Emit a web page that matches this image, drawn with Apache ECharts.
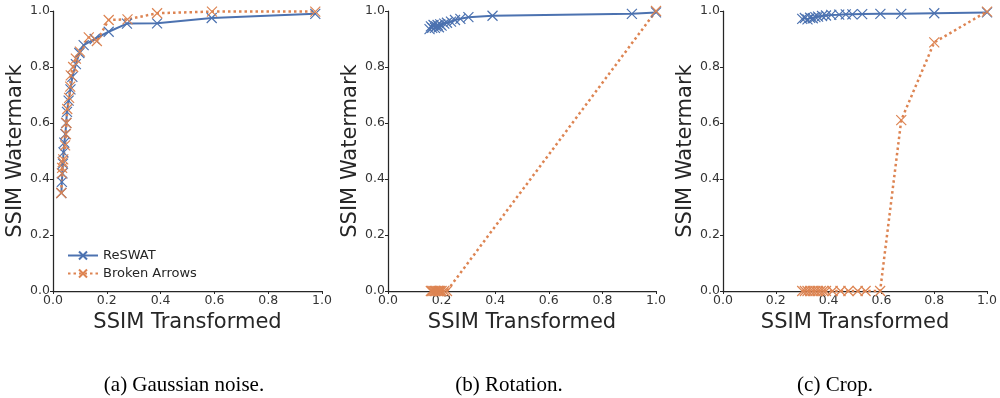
<!DOCTYPE html>
<html>
<head>
<meta charset="utf-8">
<script src="https://cdn.jsdelivr.net/npm/echarts@6/dist/echarts.min.js"></script>
<style>
html,body{margin:0;padding:0;background:#fff;}
#chart{width:1000px;height:398px;}
</style>
</head>
<body>
<div id="chart"></div>
<script>
// ---- data ----
var seriesNames = ['ReSWAT', 'Broken Arrows'];
var captions = ['(a) Gaussian noise.', '(b) Rotation.', '(c) Crop.'];
var xAxisTitle = 'SSIM Transformed';
var yAxisTitle = 'SSIM Watermark';
var tickValues = [0, 0.2, 0.4, 0.6, 0.8, 1.0];

var noiseReswat = [[0.031,0.35],[0.033,0.39],[0.035,0.42],[0.037,0.455],[0.039,0.495],[0.042,0.53],[0.046,0.56],[0.049,0.60],[0.052,0.64],[0.058,0.68],[0.065,0.72],[0.072,0.765],[0.085,0.81],[0.098,0.85],[0.114,0.878],[0.155,0.90],[0.207,0.926],[0.275,0.955],[0.387,0.956],[0.59,0.975],[0.975,0.99]];
var noiseBroken = [[0.031,0.35],[0.033,0.42],[0.034,0.44],[0.036,0.46],[0.038,0.47],[0.045,0.52],[0.048,0.56],[0.050,0.60],[0.053,0.65],[0.060,0.69],[0.064,0.73],[0.066,0.77],[0.075,0.80],[0.085,0.83],[0.100,0.855],[0.133,0.906],[0.163,0.893],[0.207,0.968],[0.277,0.97],[0.387,0.992],[0.591,0.998],[0.975,0.998]];

var rotReswat = [[0.155,0.935],[0.16,0.945],[0.165,0.94],[0.17,0.95],[0.175,0.94],[0.18,0.945],[0.185,0.95],[0.19,0.942],[0.195,0.952],[0.20,0.948],[0.21,0.955],[0.22,0.958],[0.235,0.962],[0.25,0.968],[0.27,0.972],[0.30,0.978],[0.39,0.983],[0.91,0.99],[1.0,0.995]];
var rotBroken = [[0.16,0],[0.165,0],[0.17,0],[0.175,0],[0.18,0],[0.185,0],[0.19,0],[0.195,0],[0.20,0],[0.21,0],[0.22,0],[1.0,1.0]];

var cropReswat = [[0.30,0.972],[0.31,0.975],[0.32,0.97],[0.33,0.976],[0.34,0.974],[0.35,0.978],[0.36,0.98],[0.375,0.982],[0.39,0.984],[0.41,0.986],[0.44,0.987],[0.465,0.988],[0.49,0.988],[0.527,0.989],[0.596,0.99],[0.675,0.99],[0.80,0.992],[1.0,0.995]];
var cropBroken = [[0.30,0],[0.31,0],[0.32,0],[0.33,0],[0.34,0],[0.35,0],[0.36,0],[0.37,0],[0.38,0],[0.39,0],[0.415,0],[0.445,0],[0.475,0],[0.51,0],[0.54,0],[0.595,0],[0.675,0.61],[0.80,0.888],[1.0,0.998]];

var panels = [[noiseReswat, noiseBroken],[rotReswat, rotBroken],[cropReswat, cropBroken]];

// ---- styling ----
var BLUE = '#4C72B0', ORANGE = '#DD8452', INK = '#262626';
var XSYM = 'path://M0,0L10,10M10,0L0,10';
var gridLefts = [53, 388, 723];
var gridWidths = [269, 268, 267];
var captionX = [179, 504, 830];

var chart = echarts.init(document.getElementById('chart'), null, {renderer: 'canvas'});
var grids = [], xAxes = [], yAxes = [], series = [], titles = [];
for (var i = 0; i < 3; i++) {
  grids.push({left: gridLefts[i], top: 11, width: gridWidths[i], height: 280, containLabel: false});
  var axisCommon = {
    type: 'value', min: 0, max: 1, interval: 0.2, gridIndex: i,
    splitLine: {show: false},
    axisLine: {show: true, lineStyle: {color: INK, width: 1.25}},
    axisTick: {show: true, length: 3, lineStyle: {color: INK, width: 1}},
    axisLabel: {color: '#333', fontSize: 12.5, fontFamily: 'DejaVu Sans', formatter: function (v) { return v.toFixed(1); }},
    nameTextStyle: {color: INK, fontSize: 21, fontFamily: 'DejaVu Sans'},
    nameLocation: 'middle'
  };
  xAxes.push(Object.assign({}, axisCommon, {name: xAxisTitle, nameGap: 10, axisLabel: Object.assign({}, axisCommon.axisLabel, {margin: 3})}));
  yAxes.push(Object.assign({}, axisCommon, {name: yAxisTitle, nameGap: 20, axisLabel: Object.assign({}, axisCommon.axisLabel, {margin: 3})}));
  series.push({
    name: seriesNames[0], type: 'line', xAxisIndex: i, yAxisIndex: i,
    data: panels[i][0], symbol: XSYM, symbolSize: 10, showAllSymbol: true, clip: false,
    lineStyle: {color: BLUE, width: 2},
    itemStyle: {color: BLUE, borderColor: BLUE, borderWidth: 1.2},
    emphasis: {disabled: true}
  });
  series.push({
    name: seriesNames[1], type: 'line', xAxisIndex: i, yAxisIndex: i,
    data: panels[i][1], symbol: XSYM, symbolSize: 10, showAllSymbol: true, clip: false,
    lineStyle: {color: ORANGE, width: 2.5, type: [2.5, 3]},
    itemStyle: {color: ORANGE, borderColor: ORANGE, borderWidth: 1.2},
    emphasis: {disabled: true}
  });
  titles.push({text: captions[i], left: captionX[i], top: 370, textAlign: 'center',
    textStyle: {fontFamily: 'Liberation Serif', fontSize: 21, fontWeight: 'normal', color: '#000'}});
}

chart.setOption({
  animation: false,
  backgroundColor: '#fff',
  title: titles,
  grid: grids,
  xAxis: xAxes,
  yAxis: yAxes,
  legend: {
    data: seriesNames, orient: 'vertical', left: 62, top: 244,
    itemWidth: 30, itemHeight: 10, itemGap: 5,
    textStyle: {color: INK, fontSize: 13, fontFamily: 'DejaVu Sans'}
  },
  series: series
});
</script>
</body>
</html>
